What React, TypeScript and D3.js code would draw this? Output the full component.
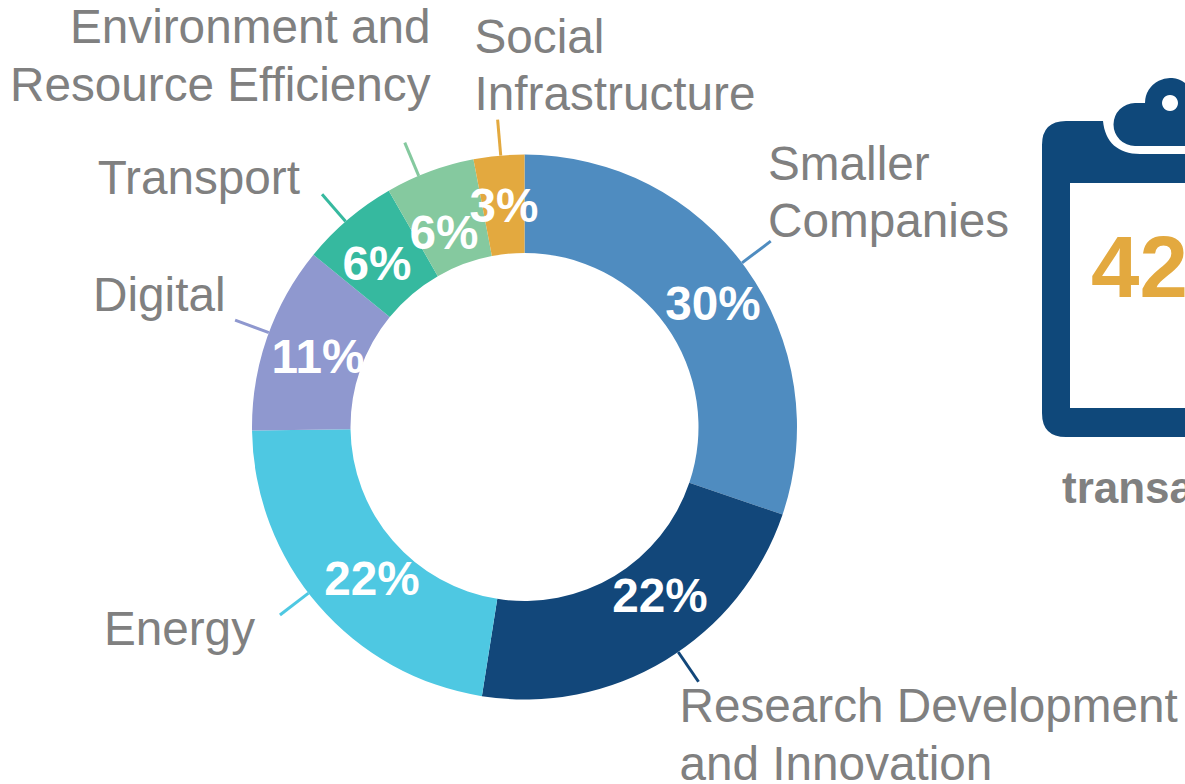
import React from "react";
import * as d3 from "d3";

const categories = ["Smaller Companies", "Research Development and Innovation", "Energy", "Digital", "Transport", "Environment and Resource Efficiency", "Social Infrastructure"];
const values = [30.2, 22.3, 22.3, 11.1, 5.8, 5.3, 3.0];
const percentLabels = ["30%", "22%", "22%", "11%", "6%", "6%", "3%"];
const colors = ["#4f8cc0", "#12477a", "#4ec8e2", "#8f98cf", "#36b99f", "#85c99f", "#e3a93f"];

const labelLines = [["Smaller", "Companies"], ["Research Development", "and Innovation"], ["Energy"], ["Digital"], ["Transport"], ["Environment and", "Resource Efficiency"], ["Social", "Infrastructure"]];
const labelLayout: [number, number, "start" | "end"][] = [
  [768, 179.5, "start"], [679.5, 722, "start"], [255, 645, "end"], [225.5, 311, "end"], [300, 193.5, "end"], [430.5, 43, "end"], [474.5, 52.5, "start"],
];
const percentLayout: [number, number][] = [[713, 303], [660, 595], [372, 578], [318, 356], [377, 263], [444, 232], [504, 205]];
const leaderShiftDeg = [-1.4, -3.2, 3.3, 1, -0.7, -2.5, 0.4];

const W = 1185, H = 784, cx = 524.5, cy = 427, R = 272.5, r = 174, leader = 36;
const GREY = "#808080", FONT = "'Liberation Sans', Arial, sans-serif", NAVY = "#0f487a";

export default function App() {
  const pie = d3.pie<number>().sort(null)(values);
  const arc = d3.arc<d3.PieArcDatum<number>>().innerRadius(r).outerRadius(R);
  return (
    <svg width={W} height={H} viewBox={`0 0 ${W} ${H}`} style={{ position: "absolute", left: 0, top: 0, background: "#fff" }} fontFamily={FONT}>
      <g transform={`translate(${cx},${cy})`}>
        {pie.map((d, i) => {
          const a = (d.startAngle + d.endAngle) / 2 + (leaderShiftDeg[i] * Math.PI) / 180;
          const s = Math.sin(a), c = -Math.cos(a);
          return (
            <g key={categories[i]}>
              <path d={arc(d) ?? ""} fill={colors[i]} />
              <line x1={R * s} y1={R * c} x2={(R + leader) * s} y2={(R + leader) * c} stroke={colors[i]} strokeWidth={3} />
            </g>
          );
        })}
      </g>
      {labelLines.map((lines, i) => (
        <text key={i} x={labelLayout[i][0]} y={labelLayout[i][1]} textAnchor={labelLayout[i][2]} fontSize={47.7} fill={GREY}>
          {lines.map((t, j) => (
            <tspan key={j} x={labelLayout[i][0]} dy={j === 0 ? 0 : 57.5}>{t}</tspan>
          ))}
        </text>
      ))}
      {percentLabels.map((t, i) => (
        <text key={i} x={percentLayout[i][0]} y={percentLayout[i][1]} dy="0.35em" textAnchor="middle" fontSize={47.7} fontWeight="bold" fill="#fff">{t}</text>
      ))}
      <path fill={NAVY} fillRule="evenodd" d="M1066 121 H1103 C1105 142 1118 154 1140 154 H1185 V437 H1066 Q1042 437 1042 413 V145 Q1042 121 1066 121 Z M1070 183 V408 H1185 V183 Z" />
      <path fill={NAVY} fillRule="evenodd" d="M1185 146 H1135 A21.5 21.5 0 0 1 1135 103 H1145 A25 25 0 0 1 1185 83 Z M1170 95 a8 8 0 1 0 0.01 0 Z" />
      <text x={1091} y={297} fontSize={87} fontWeight="bold" fill="#e3a93f">42</text>
      <text x={1062} y={503} fontSize={44} fontWeight="bold" fill={GREY}>transactions</text>
    </svg>
  );
}
